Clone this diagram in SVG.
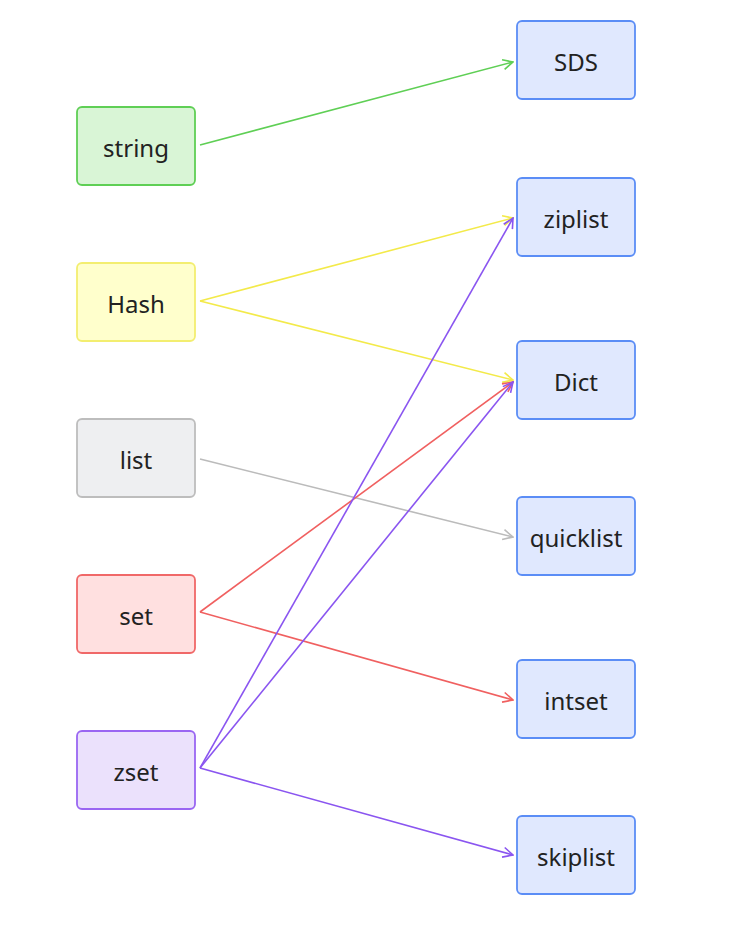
<svg xmlns="http://www.w3.org/2000/svg" width="748" height="926" viewBox="0 0 748 926">
<style>
.n rect{stroke-width:1.8}
.n text{font-family:"Noto Sans","Liberation Sans",sans-serif;font-size:24px;fill:#222;text-anchor:middle;dominant-baseline:central}
.g rect{fill:#d9f5d6;stroke:#5fcf55}
.y rect{fill:#ffffcc;stroke:#f3ee70}
.k rect{fill:#eeeff1;stroke:#bdbdbd}
.r rect{fill:#ffe0e0;stroke:#f06868}
.p rect{fill:#ebe1fc;stroke:#9a66f2}
.b rect{fill:#e0e8fe;stroke:#5b8df6}
.e path{fill:none;stroke-width:1.6}
</style>
<defs>
<marker id="mg" viewBox="0 0 12 12" refX="11" refY="6" markerWidth="12" markerHeight="12" markerUnits="userSpaceOnUse" orient="auto"><path d="M1,1 L11,6 L1,11" fill="none" stroke="#5fcf55" stroke-width="1.6"/></marker>
<marker id="my" viewBox="0 0 12 12" refX="11" refY="6" markerWidth="12" markerHeight="12" markerUnits="userSpaceOnUse" orient="auto"><path d="M1,1 L11,6 L1,11" fill="none" stroke="#f3ea4a" stroke-width="1.6"/></marker>
<marker id="mk" viewBox="0 0 12 12" refX="11" refY="6" markerWidth="12" markerHeight="12" markerUnits="userSpaceOnUse" orient="auto"><path d="M1,1 L11,6 L1,11" fill="none" stroke="#bbbbbb" stroke-width="1.6"/></marker>
<marker id="mr" viewBox="0 0 12 12" refX="11" refY="6" markerWidth="12" markerHeight="12" markerUnits="userSpaceOnUse" orient="auto"><path d="M1,1 L11,6 L1,11" fill="none" stroke="#f06060" stroke-width="1.6"/></marker>
<marker id="mp" viewBox="0 0 12 12" refX="11" refY="6" markerWidth="12" markerHeight="12" markerUnits="userSpaceOnUse" orient="auto"><path d="M1,1 L11,6 L1,11" fill="none" stroke="#8a55f0" stroke-width="1.6"/></marker>
</defs>
<g id="nodes-left">
<g id="string" class="n g"><rect x="77" y="107" width="118" height="78" rx="5"/><text x="136" y="147">string</text></g>
<g id="Hash" class="n y"><rect x="77" y="263" width="118" height="78" rx="5"/><text x="136" y="303">Hash</text></g>
<g id="list" class="n k"><rect x="77" y="419" width="118" height="78" rx="5"/><text x="136" y="459">list</text></g>
<g id="set" class="n r"><rect x="77" y="575" width="118" height="78" rx="5"/><text x="136" y="615">set</text></g>
<g id="zset" class="n p"><rect x="77" y="731" width="118" height="78" rx="5"/><text x="136" y="771">zset</text></g>
</g>
<g id="nodes-right">
<g id="SDS" class="n b"><rect x="517" y="21" width="118" height="78" rx="5"/><text x="576" y="61">SDS</text></g>
<g id="ziplist" class="n b"><rect x="517" y="178" width="118" height="78" rx="5"/><text x="576" y="218">ziplist</text></g>
<g id="Dict" class="n b"><rect x="517" y="341" width="118" height="78" rx="5"/><text x="576" y="381">Dict</text></g>
<g id="quicklist" class="n b"><rect x="517" y="497" width="118" height="78" rx="5"/><text x="576" y="537">quicklist</text></g>
<g id="intset" class="n b"><rect x="517" y="660" width="118" height="78" rx="5"/><text x="576" y="700">intset</text></g>
<g id="skiplist" class="n b"><rect x="517" y="816" width="118" height="78" rx="5"/><text x="576" y="856">skiplist</text></g>
</g>
<g id="connectors" class="e">
<path d="M200,145 L513,62" stroke="#5fcf55" marker-end="url(#mg)"/>
<path d="M200,301 L513,218" stroke="#f3ea4a" marker-end="url(#my)"/>
<path d="M200,301 L513,380" stroke="#f3ea4a" marker-end="url(#my)"/>
<path d="M200,459 L513,537" stroke="#bbbbbb" marker-end="url(#mk)"/>
<path d="M200,612 L513,382" stroke="#f06060" marker-end="url(#mr)"/>
<path d="M200,612 L513,700" stroke="#f06060" marker-end="url(#mr)"/>
<path d="M200,768 L513,218" stroke="#8a55f0" marker-end="url(#mp)"/>
<path d="M200,768 L513,382" stroke="#8a55f0" marker-end="url(#mp)"/>
<path d="M200,768 L513,855" stroke="#8a55f0" marker-end="url(#mp)"/>
</g>
</svg>
